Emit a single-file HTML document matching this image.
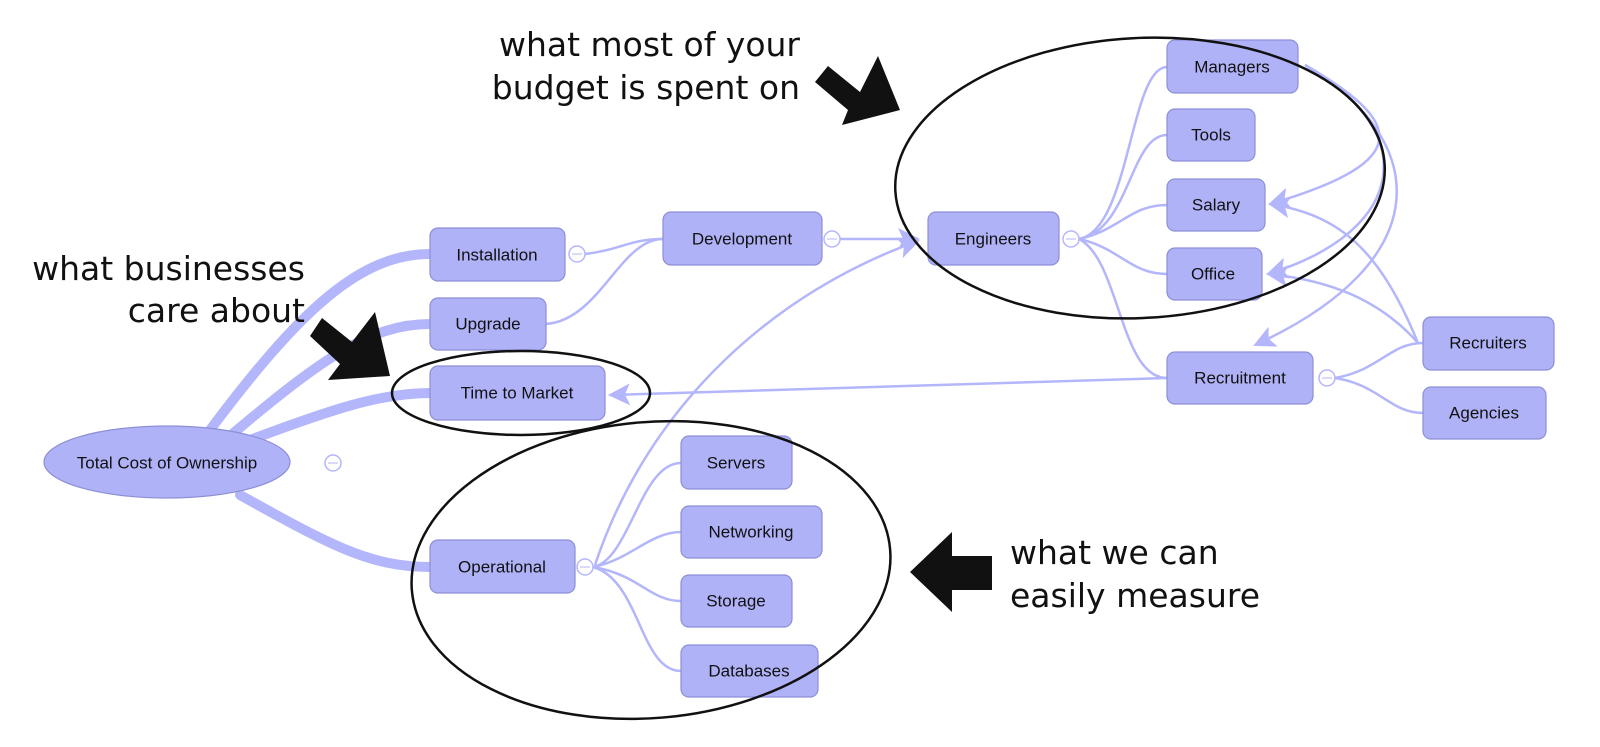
<!DOCTYPE html>
<html><head><meta charset="utf-8"><style>
html,body{margin:0;padding:0;background:#fff;}
svg{display:block;}
.n{fill:#b0b2f8;stroke:#8d8fd6;stroke-width:1.2;}
.t{font-family:"Liberation Sans",Arial,sans-serif;font-size:17px;fill:#111;text-anchor:middle;dominant-baseline:central;}
.e{fill:none;stroke:#b4b6fb;stroke-width:2.5;}
.E{fill:none;stroke:#b4b6fb;stroke-width:10;stroke-linecap:round;}
.c{fill:#fff;stroke:#b4b6fb;stroke-width:1.5;}
.big{font-family:"DejaVu Sans","Liberation Sans",sans-serif;font-size:33px;fill:#111;}
.k{fill:none;stroke:#111;stroke-width:2.5;}
</style></head><body>
<svg width="1600" height="747" viewBox="0 0 1600 747" xmlns="http://www.w3.org/2000/svg">
<defs>
<marker id="ah2" viewBox="0 0 22 22" markerWidth="22" markerHeight="22" refX="20" refY="11" orient="auto" markerUnits="userSpaceOnUse"><path d="M0,0 L22,11 L0,22 L5,11 z" fill="#b4b6fb"/></marker></defs>

<!-- thick edges -->
<path class="E" d="M210,430 C300,310 360,254 430,254"/>
<path class="E" d="M230,436 C320,360 370,324 430,324"/>
<path class="E" d="M250,440 C330,410 380,393 430,393"/>
<path class="E" d="M240,495 C330,545 370,567 430,567"/>

<!-- thin edges -->
<path class="e" d="M585,254 C620,250 630,239 663,239"/>
<path class="e" d="M546,324 C600,320 620,239 663,239"/>
<path class="e" d="M840,239 L918,239" marker-end="url(#ah2)"/>
<path class="e" d="M1079,239 C1130,230 1130,67 1167,67"/>
<path class="e" d="M1079,239 C1130,230 1130,135 1167,135"/>
<path class="e" d="M1079,239 C1120,230 1130,205 1167,205"/>
<path class="e" d="M1079,239 C1120,248 1130,274 1167,274"/>
<path class="e" d="M1079,239 C1120,260 1120,378 1167,378"/>
<path class="e" d="M1335,378 C1380,370 1390,343 1423,343"/>
<path class="e" d="M1335,378 C1380,385 1390,413 1423,413"/>
<path class="e" d="M593,567 C630,560 640,463 681,463"/>
<path class="e" d="M593,567 C630,560 650,532 681,532"/>
<path class="e" d="M593,567 C640,575 650,601 681,601"/>
<path class="e" d="M593,567 C640,580 640,671 681,671"/>
<!-- arrow links -->
<path class="e" d="M1167,378 L610,395" marker-end="url(#ah2)"/>
<path class="e" d="M595,565 C650,400 780,290 918,241" marker-end="url(#ah2)"/>
<path class="e" d="M1305,65 C1400,120 1420,160 1270,204" marker-end="url(#ah2)"/>
<path class="e" d="M1305,65 C1420,130 1410,230 1268,274" marker-end="url(#ah2)"/>
<path class="e" d="M1305,65 C1430,140 1440,260 1255,345" marker-end="url(#ah2)"/>
<path class="e" d="M1418,343 C1380,250 1340,215 1270,204" marker-end="url(#ah2)"/>
<path class="e" d="M1418,343 C1380,300 1330,280 1268,274" marker-end="url(#ah2)"/>

<!-- nodes -->
<ellipse class="n" cx="167" cy="462" rx="123" ry="36"/>
<text class="t" x="167" y="463">Total Cost of Ownership</text>
<rect class="n" x="430" y="228" width="135" height="53" rx="8"/><text class="t" x="497" y="255">Installation</text>
<rect class="n" x="430" y="298" width="116" height="52" rx="8"/><text class="t" x="488" y="324">Upgrade</text>
<rect class="n" x="430" y="366" width="175" height="54" rx="8"/><text class="t" x="517" y="393">Time to Market</text>
<rect class="n" x="430" y="540" width="145" height="53" rx="8"/><text class="t" x="502" y="567">Operational</text>
<rect class="n" x="663" y="212" width="159" height="53" rx="8"/><text class="t" x="742" y="239">Development</text>
<rect class="n" x="928" y="212" width="131" height="53" rx="8"/><text class="t" x="993" y="239">Engineers</text>
<rect class="n" x="1167" y="40" width="131" height="53" rx="8"/><text class="t" x="1232" y="67">Managers</text>
<rect class="n" x="1167" y="109" width="88" height="52" rx="8"/><text class="t" x="1211" y="135">Tools</text>
<rect class="n" x="1167" y="179" width="98" height="52" rx="8"/><text class="t" x="1216" y="205">Salary</text>
<rect class="n" x="1167" y="248" width="95" height="52" rx="8"/><text class="t" x="1213" y="274">Office</text>
<rect class="n" x="1167" y="352" width="146" height="52" rx="8"/><text class="t" x="1240" y="378">Recruitment</text>
<rect class="n" x="1423" y="317" width="131" height="53" rx="8"/><text class="t" x="1488" y="343">Recruiters</text>
<rect class="n" x="1423" y="387" width="123" height="52" rx="8"/><text class="t" x="1484" y="413">Agencies</text>
<rect class="n" x="681" y="436" width="111" height="53" rx="8"/><text class="t" x="736" y="463">Servers</text>
<rect class="n" x="681" y="506" width="141" height="52" rx="8"/><text class="t" x="751" y="532">Networking</text>
<rect class="n" x="681" y="575" width="111" height="52" rx="8"/><text class="t" x="736" y="601">Storage</text>
<rect class="n" x="681" y="645" width="137" height="52" rx="8"/><text class="t" x="749" y="671">Databases</text>

<!-- collapse circles -->
<g>
<circle class="c" cx="577" cy="254" r="8"/><line x1="572" y1="254" x2="582" y2="254" stroke="#b4b6fb"/>
<circle class="c" cx="832" cy="239" r="8"/><line x1="827" y1="239" x2="837" y2="239" stroke="#b4b6fb"/>
<circle class="c" cx="1071" cy="239" r="8"/><line x1="1066" y1="239" x2="1076" y2="239" stroke="#b4b6fb"/>
<circle class="c" cx="333" cy="463" r="8"/><line x1="328" y1="463" x2="338" y2="463" stroke="#b4b6fb"/>
<circle class="c" cx="585" cy="567" r="8"/><line x1="580" y1="567" x2="590" y2="567" stroke="#b4b6fb"/>
<circle class="c" cx="1327" cy="378" r="8"/><line x1="1322" y1="378" x2="1332" y2="378" stroke="#b4b6fb"/>
</g>

<!-- black ellipses -->
<ellipse class="k" cx="1140" cy="178" rx="245" ry="140" transform="rotate(-3 1140 178)"/>
<ellipse class="k" cx="521" cy="393" rx="129" ry="42"/>
<ellipse class="k" cx="651" cy="570" rx="240" ry="148" transform="rotate(-5 651 570)"/>

<!-- black arrows -->
<polygon fill="#111" points="815,82 828,66 860,92 878,56 900,110 842,125 848,110"/>
<polygon fill="#111" points="310,336 322,318 352,342 375,312 390,376 328,380 340,364"/>
<polygon fill="#111" points="992,556 992,590 952,590 952,612 910,572 952,532 952,556"/>

<!-- annotations -->
<text class="big" x="800" y="56" text-anchor="end">what most of your</text>
<text class="big" x="800" y="99" text-anchor="end">budget is spent on</text>
<text class="big" x="305" y="280" text-anchor="end">what businesses</text>
<text class="big" x="305" y="322" text-anchor="end">care about</text>
<text class="big" x="1010" y="564">what we can</text>
<text class="big" x="1010" y="607">easily measure</text>
</svg>
</body></html>
